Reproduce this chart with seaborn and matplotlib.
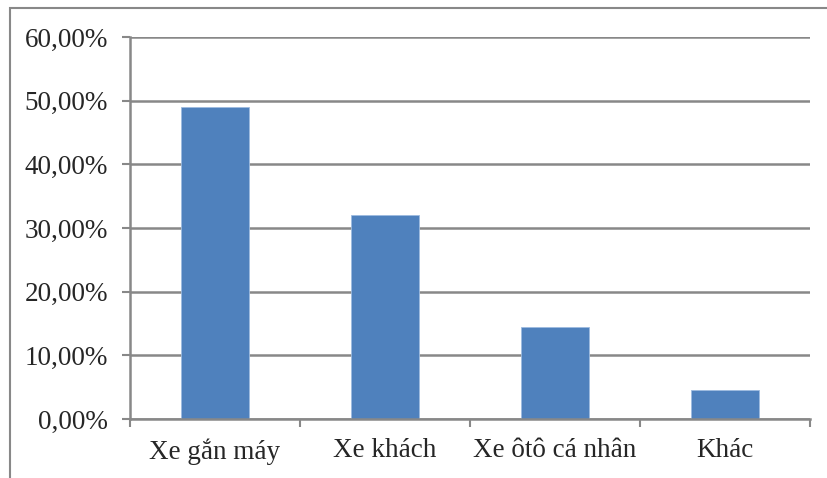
import seaborn as sns
import matplotlib.pyplot as plt
from matplotlib.patches import Rectangle
from matplotlib.ticker import FuncFormatter, FixedLocator

categories = ["Xe gắn máy", "Xe khách", "Xe ôtô cá nhân", "Khác"]
shares = [49.0, 32.0, 14.5, 4.5]
y_ticks = [0, 10, 20, 30, 40, 50, 60]

sns.set_style("white")
plt.rcParams['font.family'] = ['Liberation Serif', 'DejaVu Serif']

fig = plt.figure(figsize=(8.28, 4.78), dpi=100)
ax = fig.add_axes([130 / 828, 59 / 478, 680 / 828, 382 / 478])

sns.barplot(x=categories, y=shares, color="#4F81BD", width=0.4,
            saturation=1, edgecolor="#9dbbe0", linewidth=0.6, ax=ax)

grid_color = "#888888"
ax.set_ylim(0, 60)
ax.set_xlim(-0.5, len(categories) - 0.5)
ax.set_yticks(y_ticks)
ax.yaxis.set_major_formatter(FuncFormatter(lambda v, p: f"{v:.2f}".replace(".", ",") + "%"))
ax.yaxis.grid(True, color=grid_color, linewidth=1.8)
ax.set_axisbelow(True)

for side in ["top", "right"]:
    ax.spines[side].set_visible(False)
for side in ["left", "bottom"]:
    ax.spines[side].set_color(grid_color)
    ax.spines[side].set_linewidth(1.8)

ax.tick_params(axis="y", direction="out", length=6, width=1.5, color=grid_color,
               pad=10, labelsize=19.5, left=True)
ax.tick_params(axis="x", which="major", length=0, pad=14, labelsize=19.5)
ax.xaxis.set_minor_locator(FixedLocator([i - 0.5 for i in range(len(categories) + 1)]))
ax.tick_params(axis="x", which="minor", direction="out", length=6, width=1.5,
               color=grid_color, bottom=True)
ax.set_xlabel("")
ax.set_ylabel("")

fig.patches.append(Rectangle((10 / 828, -0.1), 1.2, 1.1 - 8 / 478, transform=fig.transFigure,
                             fill=False, edgecolor=grid_color, linewidth=1.5))

fig.savefig("out.png", dpi=100)
